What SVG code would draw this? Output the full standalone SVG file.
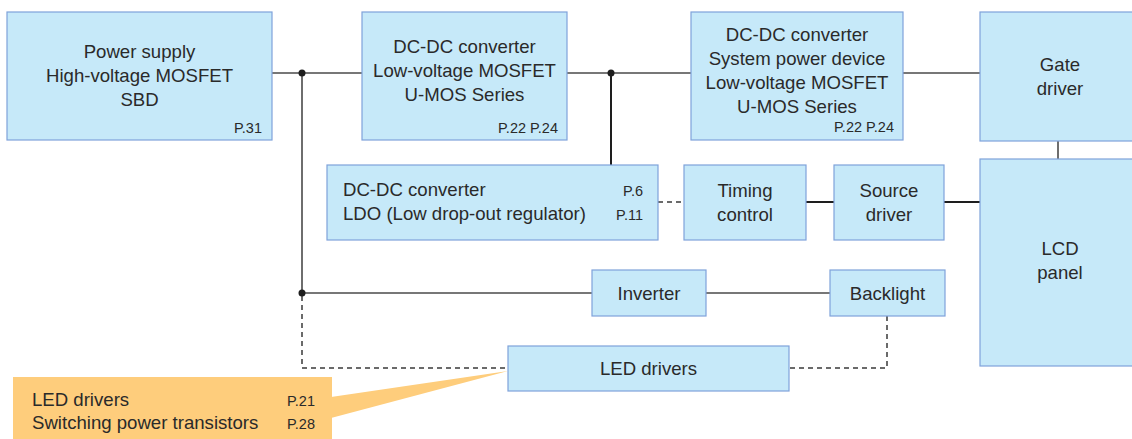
<svg xmlns="http://www.w3.org/2000/svg" width="1132" height="439" viewBox="0 0 1132 439">
<style>
.box{fill:#c6e9f9;stroke:#7fa2da;stroke-width:1.2}
.t{font-family:"Liberation Sans",Arial,sans-serif;font-size:18.6px;fill:#2a2a2a}
.c{text-anchor:middle}
.s{font-family:"Liberation Sans",Arial,sans-serif;font-size:14.5px;fill:#2a2a2a}
.e{text-anchor:end}
.ln{stroke:#4a4a4a;stroke-width:1.6;fill:none}
.lk{stroke:#1e1e1e;stroke-width:2;fill:none}
.dl{stroke:#3a3a3a;stroke-width:1.5;fill:none;stroke-dasharray:5,4}
.dot{fill:#1e1e1e}
</style>
<rect width="1132" height="439" fill="#ffffff"/>
<g id="connectors">
<line class="ln" x1="272" y1="73" x2="362" y2="73"/>
<line class="ln" x1="567" y1="73" x2="691" y2="73"/>
<line class="ln" x1="903" y1="73" x2="980" y2="73"/>
<line class="lk" x1="611" y1="73" x2="611" y2="165"/>
<line class="ln" x1="302" y1="73" x2="302" y2="293"/>
<line class="ln" x1="302" y1="293" x2="592" y2="293"/>
<line class="ln" x1="706" y1="293" x2="830" y2="293"/>
<line class="dl" x1="658" y1="202" x2="684" y2="202"/>
<line class="lk" x1="806" y1="202" x2="834" y2="202"/>
<line class="lk" x1="944" y1="202" x2="980" y2="202"/>
<line class="ln" x1="1058" y1="141" x2="1058" y2="159"/>
<polyline class="dl" points="302,296 302,368 508,368"/>
<polyline class="dl" points="887,316 887,368 789,368"/>
<circle class="dot" cx="302" cy="73" r="3.5"/>
<circle class="dot" cx="611" cy="73" r="3.5"/>
<circle class="dot" cx="302" cy="293" r="3.5"/>
</g>
<g id="power-supply">
<rect class="box" x="7" y="12" width="265" height="128"/>
<text class="t c" x="139.5" y="58">Power supply</text>
<text class="t c" x="139.5" y="82">High-voltage MOSFET</text>
<text class="t c" x="139.5" y="106">SBD</text>
<text class="s e" x="262" y="133">P.31</text>
</g>
<g id="dcdc1">
<rect class="box" x="362" y="12" width="205" height="128"/>
<text class="t c" x="464.5" y="53">DC-DC converter</text>
<text class="t c" x="464.5" y="77">Low-voltage MOSFET</text>
<text class="t c" x="464.5" y="101">U-MOS Series</text>
<text class="s e" x="558" y="133">P.22 P.24</text>
</g>
<g id="dcdc2">
<rect class="box" x="691" y="12" width="212" height="128"/>
<text class="t c" x="797" y="41">DC-DC converter</text>
<text class="t c" x="797" y="65">System power device</text>
<text class="t c" x="797" y="89">Low-voltage MOSFET</text>
<text class="t c" x="797" y="113">U-MOS Series</text>
<text class="s e" x="894" y="132">P.22 P.24</text>
</g>
<g id="gate-driver">
<rect class="box" x="980" y="12" width="160" height="129"/>
<text class="t c" x="1060" y="71">Gate</text>
<text class="t c" x="1060" y="95">driver</text>
</g>
<g id="ldo">
<rect class="box" x="327" y="165" width="331" height="75"/>
<text class="t" x="343" y="196">DC-DC converter</text>
<text class="t" x="343" y="220">LDO (Low drop-out regulator)</text>
<text class="s e" x="643" y="196">P.6</text>
<text class="s e" x="643" y="220">P.11</text>
</g>
<g id="timing-control">
<rect class="box" x="684" y="165" width="122" height="75"/>
<text class="t c" x="745" y="197">Timing</text>
<text class="t c" x="745" y="221">control</text>
</g>
<g id="source-driver">
<rect class="box" x="834" y="165" width="110" height="75"/>
<text class="t c" x="889" y="197">Source</text>
<text class="t c" x="889" y="221">driver</text>
</g>
<g id="lcd-panel">
<rect class="box" x="980" y="159" width="160" height="207"/>
<text class="t c" x="1060" y="255">LCD</text>
<text class="t c" x="1060" y="279">panel</text>
</g>
<g id="inverter">
<rect class="box" x="592" y="270" width="114" height="46"/>
<text class="t c" x="649" y="300">Inverter</text>
</g>
<g id="backlight">
<rect class="box" x="830" y="270" width="115" height="46"/>
<text class="t c" x="887.5" y="300">Backlight</text>
</g>
<g id="led-drivers">
<rect class="box" x="508" y="346" width="281" height="45"/>
<text class="t c" x="648.5" y="375">LED drivers</text>
</g>
<g id="callout">
<polygon points="331,397 508,371 331,418" fill="#fecd7c"/>
<rect x="13" y="377" width="319" height="70" fill="#fecd7c"/>
<text class="t" x="32" y="406">LED drivers</text>
<text class="t" x="32" y="429">Switching power transistors</text>
<text class="s" x="287" y="406">P.21</text>
<text class="s" x="287" y="429">P.28</text>
</g>
</svg>
